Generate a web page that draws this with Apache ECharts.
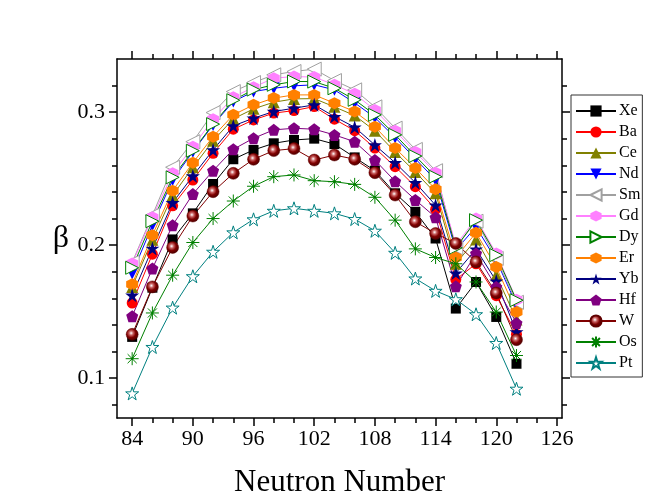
<!DOCTYPE html>
<html>
<head>
<meta charset="utf-8">
<script src="https://cdn.jsdelivr.net/npm/echarts@6/dist/echarts.min.js"></script>
<style>
html,body{margin:0;padding:0;background:#fff;}
#chart{width:654px;height:501px;}
</style>
</head>
<body>
<div id="chart"></div>
<script>
// ---- data ----
var neutrons = [84,86,88,90,92,94,96,98,100,102,104,106,108,110,112,114,116,118,120,122];
var xLabelTicks = [84,90,96,102,108,114,120,126];
var xMinorTicks = [86,88,92,94,98,100,104,106,110,112,116,118,122,124];
var yLabelTicks = [0.1,0.2,0.3];
var yMinorTicks = [0.08,0.12,0.14,0.16,0.18,0.22,0.24,0.26,0.28,0.32];

var Xe = [0.131,0.168,0.2043,0.2239,0.246,0.2646,0.2716,0.2766,0.2791,0.2801,0.276,0.266,0.256,0.239,0.2251,0.205,0.1523,0.1723,0.146,0.1108];
var Ba = [0.1565,0.1932,0.2296,0.249,0.2691,0.2872,0.2942,0.2993,0.3012,0.3042,0.2947,0.2861,0.273,0.259,0.244,0.2269,0.1741,0.186,0.162,0.133];
var Ce = [0.1686,0.204,0.2375,0.2585,0.2785,0.295,0.3025,0.3075,0.31,0.3102,0.304,0.2975,0.286,0.27,0.255,0.239,0.186,0.2043,0.1774,0.144];
var Nd = [0.1787,0.215,0.249,0.2703,0.2904,0.308,0.3155,0.318,0.3198,0.3206,0.3168,0.307,0.296,0.281,0.265,0.249,0.1962,0.2138,0.1887,0.155];
var Sm = [0.187,0.2225,0.2586,0.2778,0.2997,0.3155,0.3223,0.3281,0.3306,0.3324,0.3238,0.3168,0.304,0.288,0.272,0.256,0.198,0.218,0.19,0.157];
var Gd = [0.1862,0.2209,0.254,0.274,0.2947,0.3113,0.3188,0.3256,0.3268,0.3264,0.3206,0.3138,0.3016,0.286,0.27,0.2545,0.2,0.2201,0.1937,0.159];
var Dy = [0.183,0.218,0.251,0.271,0.291,0.309,0.317,0.3206,0.3231,0.323,0.318,0.3093,0.298,0.283,0.267,0.2515,0.198,0.2188,0.1925,0.1586];
var Er = [0.1706,0.2075,0.241,0.262,0.2816,0.298,0.3055,0.3106,0.313,0.313,0.3068,0.3005,0.289,0.273,0.258,0.242,0.1907,0.2093,0.1836,0.1497];
var Yb = [0.1623,0.1975,0.2319,0.252,0.2716,0.2897,0.2955,0.3005,0.303,0.3055,0.2967,0.2887,0.2753,0.262,0.247,0.23,0.179,0.197,0.173,0.1347];
var Hf = [0.1465,0.1824,0.215,0.2384,0.256,0.2721,0.2804,0.2867,0.2879,0.2872,0.2829,0.2778,0.264,0.248,0.234,0.2209,0.169,0.1937,0.1686,0.1414];
var W  = [0.1329,0.1686,0.1983,0.2219,0.2402,0.254,0.2646,0.2711,0.2726,0.264,0.2678,0.2646,0.2545,0.2377,0.2176,0.2088,0.2013,0.1874,0.164,0.1289];
var Os = [0.1146,0.149,0.1774,0.202,0.22,0.2332,0.2443,0.2515,0.2528,0.2485,0.2477,0.2457,0.236,0.2188,0.1972,0.1907,0.186,0.1723,0.1497,0.117];
var Pt = [0.0885,0.1234,0.153,0.1766,0.195,0.2096,0.2194,0.2258,0.2277,0.2258,0.2239,0.2196,0.2108,0.1942,0.1749,0.1656,0.1593,0.148,0.1264,0.092];

var seriesNames = ['Xe','Ba','Ce','Nd','Sm','Gd','Dy','Er','Yb','Hf','W','Os','Pt'];
var seriesValues = [Xe,Ba,Ce,Nd,Sm,Gd,Dy,Er,Yb,Hf,W,Os,Pt];

// ---- styles ----
var FONT = '"Liberation Serif","Times New Roman",serif';
var STAR = 'path://M50,0L61.2,34.5L97.6,34.5L68.2,55.9L79.4,90.5L50,69.1L20.6,90.5L31.8,55.9L2.4,34.5L38.8,34.5Z';
var PENT = 'path://M50,0L97.6,34.5L79.4,90.5L20.6,90.5L2.4,34.5Z';
var HEX = 'path://M50,0L93.3,25L93.3,75L50,100L6.7,75L6.7,25Z';
var AST = 'path://M0,50L100,50M50,0L50,100M15,15L85,85M15,85L85,15M44,50A6,6 0 1,0 56,50A6,6 0 1,0 44,50';
var ballGrad = new echarts.graphic.RadialGradient(0.42,0.4,0.6,[
  {offset:0,color:'#ffffff'},{offset:0.28,color:'#c86060'},{offset:0.6,color:'#800000'},{offset:1,color:'#4a0000'}]);

var styles = {
  Xe:{color:'#000000', symbol:'rect', size:10},
  Ba:{color:'#ff0000', symbol:'circle', size:11},
  Ce:{color:'#808000', symbol:'triangle', size:12},
  Nd:{color:'#0000ff', symbol:'triangle', size:12, rotate:180},
  Sm:{color:'#a0a0a0', symbol:'triangle', size:14, rotate:90, hollow:true},
  Gd:{color:'#ff80ff', symbol:HEX, size:12},
  Dy:{color:'#008000', symbol:'triangle', size:13, rotate:-90, hollow:true},
  Er:{color:'#ff8000', symbol:HEX, size:12},
  Yb:{color:'#000080', symbol:STAR, size:14},
  Hf:{color:'#800080', symbol:PENT, size:12},
  W:{color:'#800000', symbol:'circle', size:12, ball:true},
  Os:{color:'#008000', symbol:AST, size:13, ast:true},
  Pt:{color:'#008080', symbol:STAR, size:13, hollow:true}
};

var series = seriesNames.map(function(name, i){
  var st = styles[name];
  var item = {color: st.color};
  if (st.hollow) item = {color:'#ffffff', borderColor: st.color, borderWidth: 1};
  if (st.ball) item = {color: ballGrad, borderColor:'#600000', borderWidth:0.5};
  if (st.ast) item = {color:'transparent', borderColor: st.color, borderWidth: 1};
  return {
    name: name,
    type: 'line',
    xAxisIndex: 0, yAxisIndex: 0,
    data: neutrons.map(function(n, k){ return [n, seriesValues[i][k]]; }),
    symbol: st.symbol,
    symbolSize: st.size,
    symbolRotate: st.rotate || 0,
    showAllSymbol: true,
    lineStyle: {color: st.color, width: 1},
    itemStyle: item,
    emphasis: {disabled: true},
    animation: false
  };
});

function xAxisDef(pos, ticks, len, showLine, showLabel){
  return {
    type:'value', position: pos, min: 82.5, max: 126.5,
    axisLine: {show: showLine, onZero:false, lineStyle:{color:'#000', width:1.5}},
    axisTick: {show:true, customValues: ticks, length: len, inside:false, lineStyle:{color:'#000', width:1.5}},
    axisLabel: showLabel ? {show:true, customValues: xLabelTicks, margin: 10, fontFamily: FONT, fontSize: 22, color:'#000'} : {show:false},
    splitLine: {show:false}
  };
}
function yAxisDef(pos, ticks, len, showLine, showLabel){
  return {
    type:'value', position: pos, min: 0.07, max: 0.34,
    axisLine: {show: showLine, onZero:false, lineStyle:{color:'#000', width:1.5}},
    axisTick: {show:true, customValues: ticks, length: len, inside:false, lineStyle:{color:'#000', width:1.5}},
    axisLabel: showLabel ? {show:true, customValues: yLabelTicks, margin: 12, fontFamily: FONT, fontSize: 22, color:'#000',
      formatter: function(v){ return (Math.round(v*10)/10).toFixed(1); }} : {show:false},
    splitLine: {show:false}
  };
}

var xAxes = [
  xAxisDef('bottom', xLabelTicks, 8, true, true),
  xAxisDef('bottom', xMinorTicks, 5, false, false),
  xAxisDef('top', xLabelTicks, 8, true, false),
  xAxisDef('top', xMinorTicks, 5, false, false)
];
xAxes[0].name = 'Neutron Number';
xAxes[0].nameLocation = 'middle';
xAxes[0].nameGap = 49;
xAxes[0].nameTextStyle = {fontFamily: FONT, fontSize: 31, color:'#000'};

var yAxes = [
  yAxisDef('left', yLabelTicks, 8, true, true),
  yAxisDef('left', yMinorTicks, 5, false, false),
  yAxisDef('right', yLabelTicks, 8, true, false),
  yAxisDef('right', yMinorTicks, 5, false, false)
];
yAxes[0].name = 'β';
yAxes[0].nameLocation = 'middle';
yAxes[0].nameGap = 48;
yAxes[0].nameRotate = 0;
yAxes[0].nameTextStyle = {fontFamily: FONT, fontSize: 32, color:'#000', padding:[0,0,22,0]};

var chart = echarts.init(document.getElementById('chart'), null, {renderer:'canvas'});
chart.setOption({
  backgroundColor: '#ffffff',
  animation: false,
  grid: {left: 117, right: 92, top: 59, bottom: 83, containLabel: false, outerBoundsMode: 'none'},
  xAxis: xAxes,
  yAxis: yAxes,
  legend: {
    orient: 'vertical', left: 571, top: 95,
    itemWidth: 40, itemHeight: 14, itemGap: 5,
    padding: [8, 2, 6, 4],
    borderColor: '#333', borderWidth: 1, backgroundColor:'#fff',
    textStyle: {fontFamily: FONT, fontSize: 16, color:'#000', padding:[0,0,0,-2]},
    data: seriesNames,
    selectedMode: false
  },
  series: series
});
</script>
</body>
</html>
